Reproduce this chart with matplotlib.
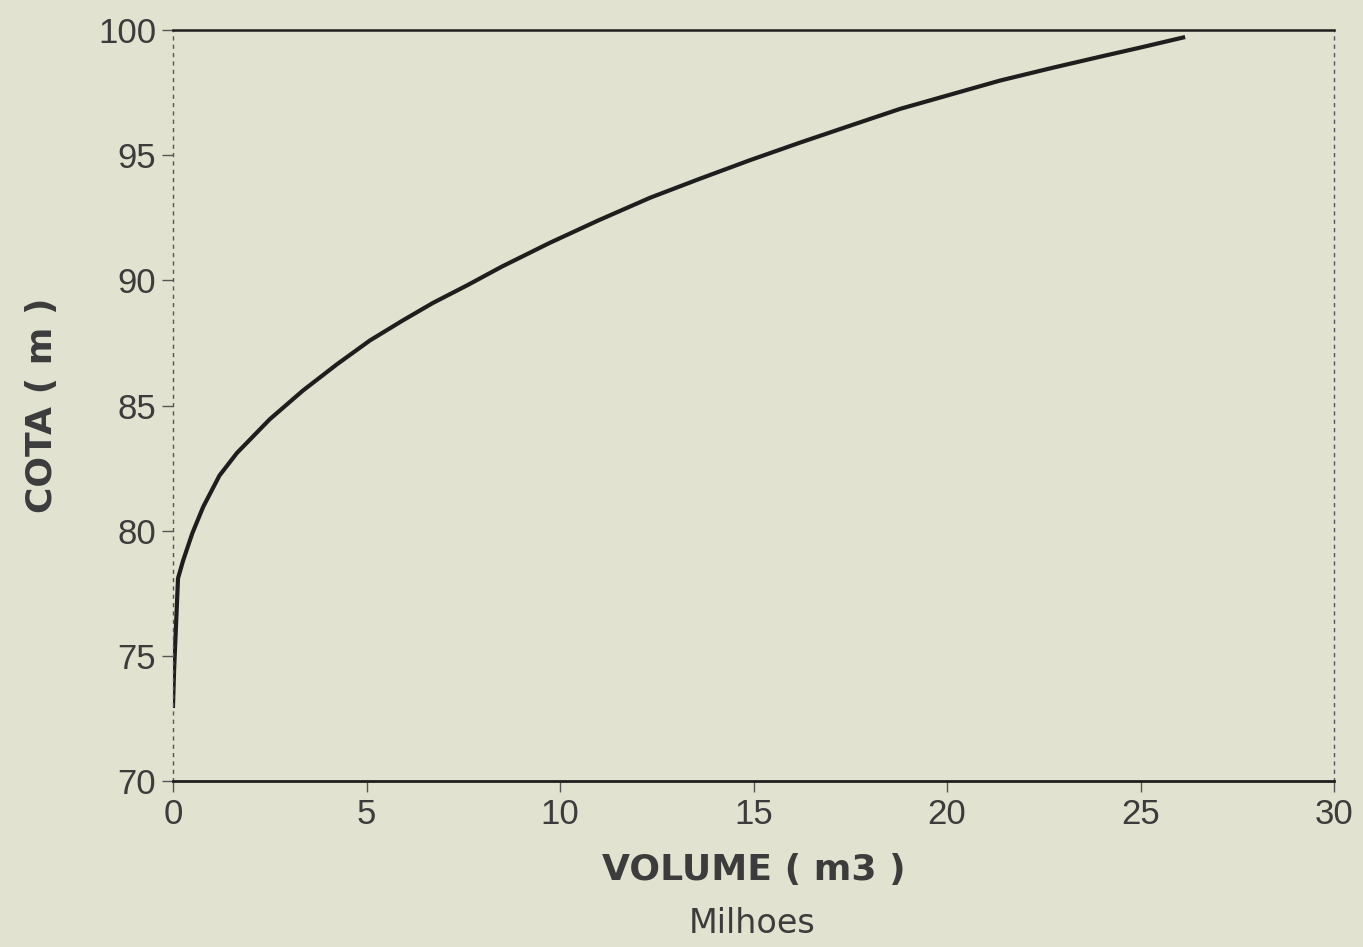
import matplotlib.pyplot as plt

# volume (millions m3) vs cota (m)
volume = [0.0, 0.03, 0.08, 0.13, 0.26, 0.5, 0.78, 1.2, 1.65, 2.5, 3.36, 4.24,
          5.09, 5.94, 6.72, 7.6, 8.5, 9.74, 11.0, 12.33, 13.6, 14.91, 16.2,
          17.5, 18.79, 20.0, 21.37, 22.7, 23.95, 25.0, 26.1]
cota = [73.0, 74.5, 76.3, 78.1, 78.8, 79.9, 80.95, 82.2, 83.1, 84.45, 85.6, 86.65,
        87.6, 88.4, 89.1, 89.8, 90.55, 91.5, 92.4, 93.3, 94.05, 94.8, 95.5,
        96.18, 96.85, 97.38, 97.98, 98.48, 98.93, 99.3, 99.7]

x_ticks = [0, 5, 10, 15, 20, 25, 30]
y_ticks = [70, 75, 80, 85, 90, 95, 100]

bg = '#e2e2d0'
text_col = '#3c3c3c'
plt.rcParams['font.family'] = ['Liberation Sans', 'DejaVu Sans']

fig = plt.figure(figsize=(13.63, 9.47), dpi=100, facecolor=bg)
ax = fig.add_axes([173 / 1363, 1 - 781 / 947, (1334 - 173) / 1363, (781 - 30) / 947])
ax.set_facecolor(bg)

ax.plot(volume, cota, color='#1e1e1e', linewidth=3)

ax.set_xlim(0, 30)
ax.set_ylim(70, 100)
ax.set_xticks(x_ticks)
ax.set_yticks(y_ticks)
ax.tick_params(axis='both', direction='out', length=8, width=1, color='#555555',
               labelsize=25, labelcolor=text_col, pad=4)

ax.spines['top'].set_linewidth(1.8)
ax.spines['top'].set_color('#1e1e1e')
ax.spines['bottom'].set_linewidth(2)
ax.spines['bottom'].set_color('#1e1e1e')
for s in ['left', 'right']:
    ax.spines[s].set_linewidth(1)
    ax.spines[s].set_color('#555555')
    ax.spines[s].set_linestyle((0, (2, 4)))

ax.set_ylabel('COTA ( m )', fontsize=26, fontweight='bold', color=text_col,
              family='DejaVu Sans', va='center')
ax.yaxis.set_label_coords(-0.113, 0.5)
ax.set_xlabel('VOLUME ( m3 )', fontsize=26, fontweight='bold', color=text_col,
              family='DejaVu Sans', va='center')
ax.xaxis.set_label_coords(0.5, -0.1185)
fig.text(752 / 1363, 1 - 923 / 947, 'Milhoes', fontsize=24, color=text_col,
         family='DejaVu Sans', ha='center', va='center')

fig.savefig('out.png', dpi=100, facecolor=bg)
